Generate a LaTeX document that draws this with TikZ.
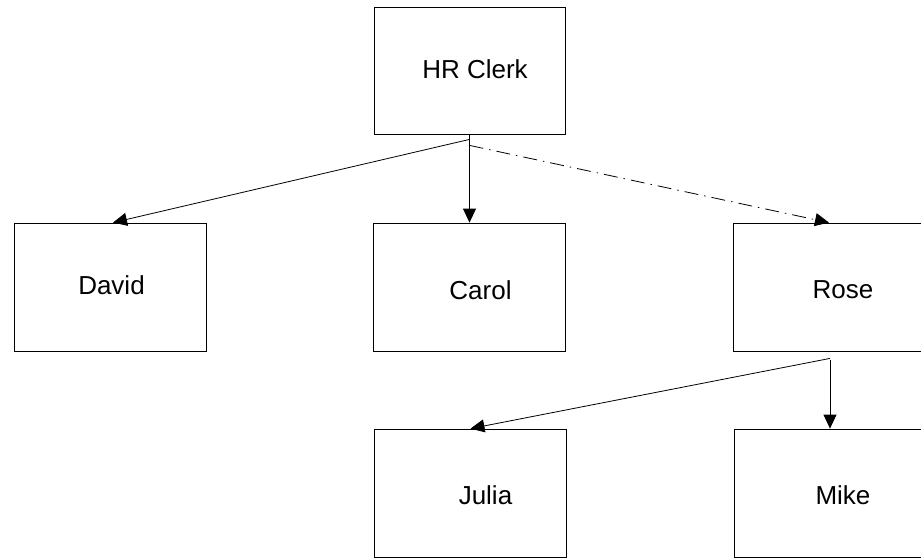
\documentclass[tikz,border=0pt]{standalone}
\usepackage{fontspec}
\setmainfont{Liberation Sans}
\usetikzlibrary{arrows.meta, positioning}

\tikzset{
  person/.style={draw, line width=0.8pt, minimum width=192pt, minimum height=128pt, inner sep=0pt},
  tag/.style={anchor=base, inner sep=0pt, font=\fontsize{26}{30}\selectfont},
  link/.style={line width=0.8pt, -{Triangle[length=14pt,width=13pt]}},
}

\begin{document}
\begin{tikzpicture}[x=1pt, y=-1pt]
  \useasboundingbox (0,0) rectangle (921,558);

  % Boxes
  \node[person, minimum width=191pt, minimum height=127pt] (hr) at (469.5,70.5) {};
  \node[person] (david) at (110,287) {};
  \node[person] (carol) at (469.5,287) {};
  \node[person] (rose) at (829,287) {};
  \node[person] (julia) at (470.5,493) {};
  \node[person] (mike) at (830,493) {};

  % Names
  \node[tag] (hr-txt) at (475,78) {HR Clerk};
  \node[tag] (david-txt) at (111.5,294) {David};
  \node[tag] (carol-txt) at (480.5,299) {Carol};
  \node[tag] (rose-txt) at (843,298) {Rose};
  \node[tag] (julia-txt) at (485.5,504) {Julia};
  \node[tag] (mike-txt) at (843,504) {Mike};

  % Forks (yshift is in page direction, so minus is down)
  \coordinate (hr-fork) at ([yshift=-5]hr.south);
  \coordinate (rose-fork) at ([xshift=1,yshift=-7]rose.south);

  % Links
  \draw[link] (hr-fork) -- ([xshift=3]david.north);
  \draw[link] (hr.south) -- (carol.north);
  \draw[link, dash pattern=on 14pt off 6pt on 1.5pt off 6pt] ([yshift=-6]hr-fork) -- (rose.north);
  \draw[link] (rose-fork) -- (julia.north);
  \draw[link] ([yshift=-2]rose-fork) -- (mike.north);
\end{tikzpicture}
\end{document}
